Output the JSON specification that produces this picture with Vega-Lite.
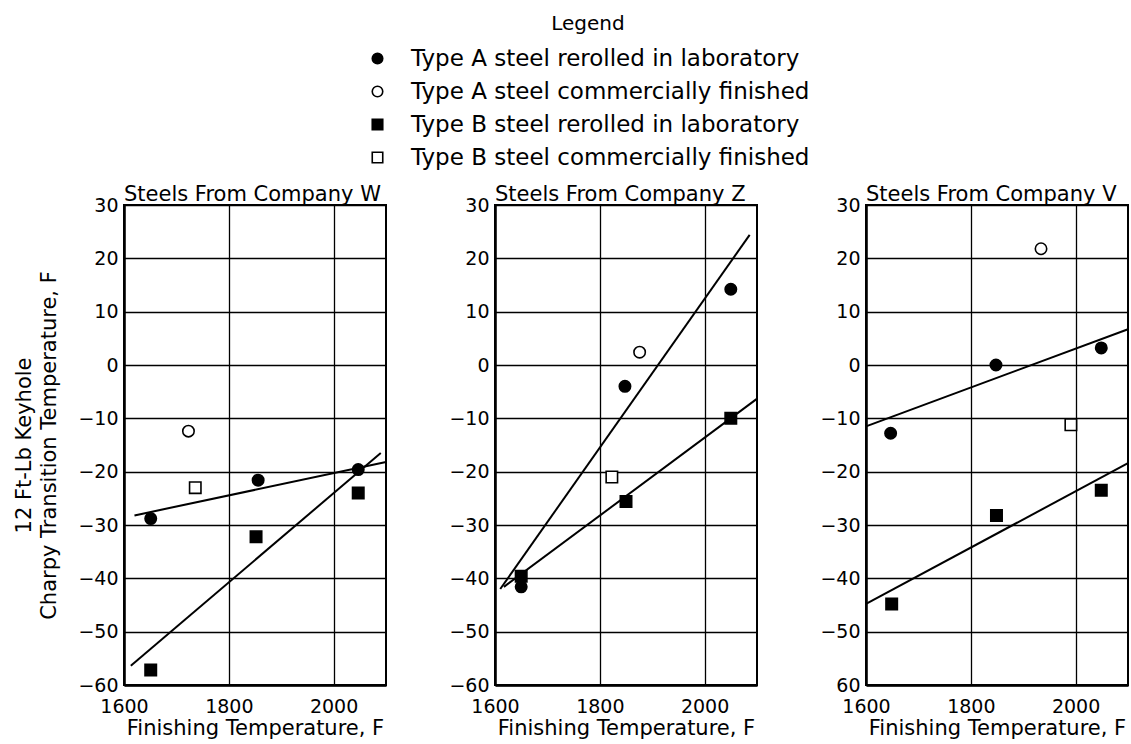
{
  "$schema": "https://vega.github.io/schema/vega-lite/v6.json",
  "background": "white",
  "padding": {"left": 12, "top": 14, "right": 2, "bottom": 2},
  "bounds": "flush",
  "spacing": 109,
  "datasets": {
    "pts": [
      {"company": "W", "series": "Type A steel rerolled in laboratory", "temp": 1651, "value": -28.8},
      {"company": "W", "series": "Type A steel rerolled in laboratory", "temp": 1856, "value": -21.6},
      {"company": "W", "series": "Type A steel rerolled in laboratory", "temp": 2047, "value": -19.6},
      {"company": "W", "series": "Type A steel commercially finished", "temp": 1723, "value": -12.4},
      {"company": "W", "series": "Type B steel rerolled in laboratory", "temp": 1651, "value": -57.2},
      {"company": "W", "series": "Type B steel rerolled in laboratory", "temp": 1852, "value": -32.2},
      {"company": "W", "series": "Type B steel rerolled in laboratory", "temp": 2047, "value": -24},
      {"company": "W", "series": "Type B steel commercially finished", "temp": 1736, "value": -23},
      {"company": "Z", "series": "Type A steel rerolled in laboratory", "temp": 1650, "value": -41.6},
      {"company": "Z", "series": "Type A steel rerolled in laboratory", "temp": 1848, "value": -4},
      {"company": "Z", "series": "Type A steel rerolled in laboratory", "temp": 2050, "value": 14.2},
      {"company": "Z", "series": "Type A steel commercially finished", "temp": 1876, "value": 2.4},
      {"company": "Z", "series": "Type B steel rerolled in laboratory", "temp": 1650, "value": -39.6},
      {"company": "Z", "series": "Type B steel rerolled in laboratory", "temp": 1850, "value": -25.6},
      {"company": "Z", "series": "Type B steel rerolled in laboratory", "temp": 2050, "value": -10},
      {"company": "Z", "series": "Type B steel commercially finished", "temp": 1823, "value": -21},
      {"company": "V", "series": "Type A steel rerolled in laboratory", "temp": 1647, "value": -12.8},
      {"company": "V", "series": "Type A steel rerolled in laboratory", "temp": 1848, "value": 0},
      {"company": "V", "series": "Type A steel rerolled in laboratory", "temp": 2049, "value": 3.2},
      {"company": "V", "series": "Type A steel commercially finished", "temp": 1934, "value": 21.8},
      {"company": "V", "series": "Type B steel rerolled in laboratory", "temp": 1649, "value": -44.8},
      {"company": "V", "series": "Type B steel rerolled in laboratory", "temp": 1849, "value": -28.2},
      {"company": "V", "series": "Type B steel rerolled in laboratory", "temp": 2049, "value": -23.5},
      {"company": "V", "series": "Type B steel commercially finished", "temp": 1991, "value": -11.2}
    ],
    "fits": [
      {"company": "W", "line": "A", "temp": 1620, "value": -28.2},
      {"company": "W", "line": "A", "temp": 2100, "value": -18.2},
      {"company": "W", "line": "B", "temp": 1613, "value": -56.4},
      {"company": "W", "line": "B", "temp": 2090, "value": -16.5},
      {"company": "Z", "line": "A", "temp": 1610, "value": -42},
      {"company": "Z", "line": "A", "temp": 2086, "value": 24.4},
      {"company": "Z", "line": "B", "temp": 1617, "value": -41.6},
      {"company": "Z", "line": "B", "temp": 2099, "value": -6.4},
      {"company": "V", "line": "A", "temp": 1600, "value": -11.5},
      {"company": "V", "line": "A", "temp": 2100, "value": 6.7},
      {"company": "V", "line": "B", "temp": 1600, "value": -44.8},
      {"company": "V", "line": "B", "temp": 2100, "value": -18.4}
    ]
  },
  "config": {
    "font": "DejaVu Sans",
    "view": {"stroke": "black", "strokeWidth": 2},
    "axis": {
      "domainColor": "black", "domainWidth": 2.5,
      "gridColor": "black", "gridOpacity": 1, "gridWidth": 1.3,
      "ticks": false, "labelFlush": false, "labelOverlap": false,
      "labelColor": "black", "labelFontSize": 19, "labelPadding": 6,
      "titleColor": "black", "titleFontSize": 21, "titleFontWeight": "normal"
    },
    "axisX": {"labelPadding": 12, "titlePadding": 1},
    "title": {"fontSize": 21, "fontWeight": "normal", "anchor": "start", "frame": "group", "offset": -9, "color": "black"},
    "legend": {
      "title": "Legend", "orient": "none", "legendX": 242, "legendY": -191,
      "titleFontSize": 20, "titleFontWeight": "normal", "titleColor": "black", "titleAnchor": "middle", "titlePadding": 13,
      "labelFontSize": 23, "labelColor": "black", "labelLimit": 700,
      "symbolSize": 110, "symbolStrokeWidth": 1.6, "rowPadding": 9, "labelOffset": 22
    }
  },
  "hconcat": [
    {
      "width": 262, "height": 480,
      "title": "Steels From Company W",
      "layer": [
        {
          "data": {"name": "fits"},
          "transform": [{"filter": "datum.company === 'W'"}],
          "mark": {"type": "line", "color": "black", "strokeWidth": 2},
          "encoding": {
            "x": {"field": "temp", "type": "quantitative", "scale": {"domain": [1600, 2100]}, "axis": {"values": [1600, 1800, 2000], "title": "Finishing Temperature, F", "format": "d"}},
            "y": {"field": "value", "type": "quantitative", "scale": {"domain": [-60, 30]}, "axis": {"values": [-60, -50, -40, -30, -20, -10, 0, 10, 20, 30], "title": ["12 Ft-Lb Keyhole", "Charpy Transition Temperature, F"], "titlePadding": 18, "titleLineHeight": 25}},
            "detail": {"field": "line"}
          }
        },
        {
          "data": {"name": "pts"},
          "transform": [{"filter": "datum.company === 'W'"}],
          "mark": {"type": "point", "filled": true, "strokeWidth": 1.6, "size": 130, "opacity": 1},
          "encoding": {
            "x": {"field": "temp", "type": "quantitative"},
            "y": {"field": "value", "type": "quantitative"},
            "shape": {"field": "series", "type": "nominal", "title": "Legend", "scale": {"domain": ["Type A steel rerolled in laboratory", "Type A steel commercially finished", "Type B steel rerolled in laboratory", "Type B steel commercially finished"], "range": ["circle", "circle", "square", "square"]}},
            "fill": {"field": "series", "type": "nominal", "title": "Legend", "scale": {"domain": ["Type A steel rerolled in laboratory", "Type A steel commercially finished", "Type B steel rerolled in laboratory", "Type B steel commercially finished"], "range": ["black", "white", "black", "white"]}},
            "stroke": {"field": "series", "type": "nominal", "title": "Legend", "scale": {"domain": ["Type A steel rerolled in laboratory", "Type A steel commercially finished", "Type B steel rerolled in laboratory", "Type B steel commercially finished"], "range": ["black", "black", "black", "black"]}}
          }
        }
      ]
    },
    {
      "width": 262, "height": 480,
      "title": "Steels From Company Z",
      "layer": [
        {
          "data": {"name": "fits"},
          "transform": [{"filter": "datum.company === 'Z'"}],
          "mark": {"type": "line", "color": "black", "strokeWidth": 2},
          "encoding": {
            "x": {"field": "temp", "type": "quantitative", "scale": {"domain": [1600, 2100]}, "axis": {"values": [1600, 1800, 2000], "title": "Finishing Temperature, F", "format": "d"}},
            "y": {"field": "value", "type": "quantitative", "scale": {"domain": [-60, 30]}, "axis": {"values": [-60, -50, -40, -30, -20, -10, 0, 10, 20, 30], "title": null}},
            "detail": {"field": "line"}
          }
        },
        {
          "data": {"name": "pts"},
          "transform": [{"filter": "datum.company === 'Z'"}],
          "mark": {"type": "point", "filled": true, "strokeWidth": 1.6, "size": 130, "opacity": 1},
          "encoding": {
            "x": {"field": "temp", "type": "quantitative"},
            "y": {"field": "value", "type": "quantitative"},
            "shape": {"field": "series", "type": "nominal", "title": "Legend"},
            "fill": {"field": "series", "type": "nominal", "title": "Legend"},
            "stroke": {"field": "series", "type": "nominal", "title": "Legend"}
          }
        }
      ]
    },
    {
      "width": 262, "height": 480,
      "title": "Steels From Company  V",
      "layer": [
        {
          "data": {"name": "fits"},
          "transform": [{"filter": "datum.company === 'V'"}],
          "mark": {"type": "line", "color": "black", "strokeWidth": 2},
          "encoding": {
            "x": {"field": "temp", "type": "quantitative", "scale": {"domain": [1600, 2100]}, "axis": {"values": [1600, 1800, 2000], "title": "Finishing Temperature, F", "format": "d"}},
            "y": {"field": "value", "type": "quantitative", "scale": {"domain": [-60, 30]}, "axis": {"values": [-60, -50, -40, -30, -20, -10, 0, 10, 20, 30], "title": null, "labelExpr": "datum.value === -60 ? '60' : datum.label"}},
            "detail": {"field": "line"}
          }
        },
        {
          "data": {"name": "pts"},
          "transform": [{"filter": "datum.company === 'V'"}],
          "mark": {"type": "point", "filled": true, "strokeWidth": 1.6, "size": 130, "opacity": 1},
          "encoding": {
            "x": {"field": "temp", "type": "quantitative"},
            "y": {"field": "value", "type": "quantitative"},
            "shape": {"field": "series", "type": "nominal", "title": "Legend"},
            "fill": {"field": "series", "type": "nominal", "title": "Legend"},
            "stroke": {"field": "series", "type": "nominal", "title": "Legend"}
          }
        }
      ]
    }
  ]
}
